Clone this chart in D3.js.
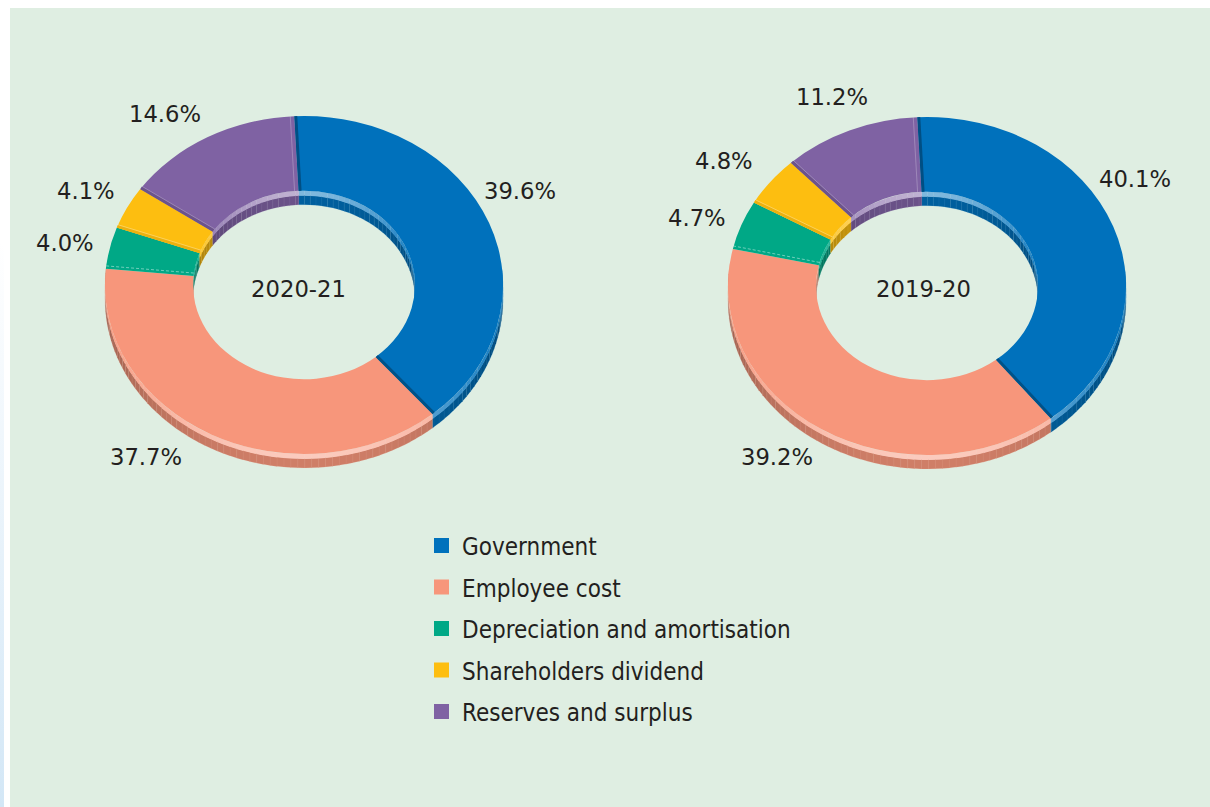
<!DOCTYPE html>
<html>
<head>
<meta charset="utf-8">
<script src="https://cdn.jsdelivr.net/npm/d3@7"></script>
<style>
html,body{margin:0;padding:0;background:#fff;}
svg{display:block;}
text{fill:#231f20;}
.pct,.year{font-family:"DejaVu Sans",sans-serif;font-size:22.7px;}
.key{font-family:"DejaVu Sans Condensed","DejaVu Sans",sans-serif;font-size:24px;}
</style>
</head>
<body>
<svg id="chart" width="1210" height="807"></svg>
<script>
// Distribution of revenue, two financial years
const categories = ["Government", "Employee cost", "Depreciation and amortisation", "Shareholders dividend", "Reserves and surplus"];
const values2021 = [39.6, 37.7, 4.0, 4.1, 14.6];
const values2020 = [40.1, 39.2, 4.7, 4.8, 11.2];
const yearLabels = ["2020-21", "2019-20"];
const colours = ["#0071bc", "#f7967b", "#00a886", "#fdbe10", "#7f62a3"];

const svg = d3.select("#chart");

// Faint blue strip down the left page margin
const strip = svg.append("defs").append("linearGradient")
  .attr("id", "strip").attr("x1", 0).attr("x2", 0).attr("y1", 0).attr("y2", 1);
strip.append("stop").attr("offset", "30%").attr("stop-color", "#ffffff");
strip.append("stop").attr("offset", "100%").attr("stop-color", "#d3e7f6");
svg.append("rect").attr("width", 4).attr("height", 807).attr("fill", "url(#strip)");

// Panel
svg.append("rect").attr("x", 10).attr("y", 8).attr("width", 1200).attr("height", 799).attr("fill", "#dfeee2");

const colour = d3.scaleOrdinal().domain(categories).range(colours);
const outerR = 199, innerR = 111, tilt = 0.849, depth = 14, rim = 5;
const deg = Math.PI / 180;
const startAngle = -2.8 * deg;

const pie = d3.pie().sort(null).startAngle(startAngle).endAngle(startAngle + 2 * Math.PI);
const arc = d3.arc().innerRadius(innerR).outerRadius(outerR);
const mix = (a, b, t) => d3.interpolateRgb(a, b)(t);

// Point on a ring of the tilted disc, dropped by z below the top face
const onDisc = (r, a, z = 0) => {
  const [x, y] = d3.pointRadial(a, r);
  return [x, y * tilt + z];
};
const quad = (r, a0, a1, z0, z1) =>
  d3.line()([onDisc(r, a0, z0), onDisc(r, a1, z0), onDisc(r, a1, z1), onDisc(r, a0, z1)]) + "Z";

// Facets of one ring of wall; facing tells how square-on each facet sits to the viewer
function drawWall(g, slices, r, step, visible, facing) {
  slices.forEach(d => {
    const base = colour(d.name);
    const edges = d3.range(d.startAngle, d.endAngle, step).concat(d.endAngle);
    d3.pairs(edges).forEach(([a0, a1]) => {
      const mid = (a0 + a1) / 2;
      if (!visible(mid)) return;
      const f = facing(mid);
      g.append("path").attr("d", quad(r, a0, a1 + 0.002, rim - 0.5, depth))
        .attr("fill", mix(base, "#000000", 0.4 - 0.24 * f))
        .attr("stroke", mix(base, "#ffffff", 0.35)).attr("stroke-opacity", 0.2).attr("stroke-width", 0.6);
      g.append("path").attr("d", quad(r, a0, a1 + 0.002, 0, rim))
        .attr("fill", mix(base, "#ffffff", 0.06 + 0.44 * f * f));
    });
  });
}

// A straight band across the ring, set in from a slice edge by a fixed number of pixels
function edgeBand(g, angle, inset, stroke, width, opacity = 1, dash = null) {
  const nx = Math.cos(angle) * inset, ny = Math.sin(angle) * inset * tilt;
  const [x0, y0] = onDisc(innerR, angle);
  const [x1, y1] = onDisc(outerR, angle);
  g.append("line")
    .attr("x1", x0 + nx).attr("y1", y0 + ny).attr("x2", x1 + nx).attr("y2", y1 + ny)
    .attr("stroke", stroke).attr("stroke-width", width)
    .attr("stroke-opacity", opacity).attr("stroke-dasharray", dash);
}

function drawDonut(values, year, cx, cy, yearX, labelSpots) {
  const g = svg.append("g").attr("transform", `translate(${cx},${cy})`);
  const slices = pie(values).map((d, i) => ({...d, name: categories[i]}));

  // Outer wall faces the viewer along the lower half, inner wall along the upper half
  drawWall(g, slices, outerR, 2 * deg, a => Math.cos(a) < 0.12, a => Math.max(0, -Math.cos(a)));
  drawWall(g, slices, innerR, 3 * deg, a => Math.cos(a) > -0.12, a => Math.max(0, Math.cos(a)));

  // Top face
  g.append("g").attr("transform", `scale(1,${tilt})`)
    .selectAll("path").data(slices).join("path")
    .attr("d", arc)
    .attr("fill", d => colour(d.name));

  // Bevels along the slice joints
  const [gov, , dep, div, res] = slices;
  edgeBand(g, res.startAngle, 1.5, d3.color(colours[4]).darker(0.45), 3);
  edgeBand(g, res.startAngle, 3.5, "#ffffff", 0.7, 0.35);
  edgeBand(g, res.endAngle, -4, "#ffffff", 0.8, 0.3);
  edgeBand(g, div.startAngle, 1.5, d3.color(colours[3]).darker(0.2), 3);
  edgeBand(g, div.startAngle, 3.5, "#ffffff", 0.8, 0.4);
  edgeBand(g, dep.startAngle, 3.5, "#ffffff", 0.8, 0.55, "3 2");
  edgeBand(g, gov.startAngle, 1.5, d3.color(colours[0]).darker(1), 3);
  edgeBand(g, gov.endAngle, -1.5, d3.color(colours[0]).darker(0.9), 3);

  // Year in the hole
  svg.append("text").attr("class", "year").attr("x", yearX).attr("y", 297)
    .attr("text-anchor", "middle").text(year);

  // Percentage labels
  svg.append("g").selectAll("text").data(values).join("text")
    .attr("class", "pct")
    .attr("x", (d, i) => labelSpots[i][0])
    .attr("y", (d, i) => labelSpots[i][1])
    .text(d => d.toFixed(1) + "%");
}

drawDonut(values2021, yearLabels[0], 304, 285, 298.5, [[484, 199], [110, 465], [36, 251], [57, 199], [129, 122]]);
drawDonut(values2020, yearLabels[1], 927, 286, 923.5, [[1099, 187], [741, 465], [668, 226], [695, 169], [796, 105]]);

// Legend
const legendY = d3.scalePoint().domain(categories).range([546, 712]);
const legend = svg.append("g").selectAll("g").data(categories).join("g")
  .attr("transform", d => `translate(434,${legendY(d)})`);
legend.append("rect").attr("y", -8).attr("width", 15).attr("height", 15).attr("fill", d => colour(d));
legend.append("text").attr("class", "key").attr("x", 28).attr("y", 9).text(d => d);
</script>
</body>
</html>
